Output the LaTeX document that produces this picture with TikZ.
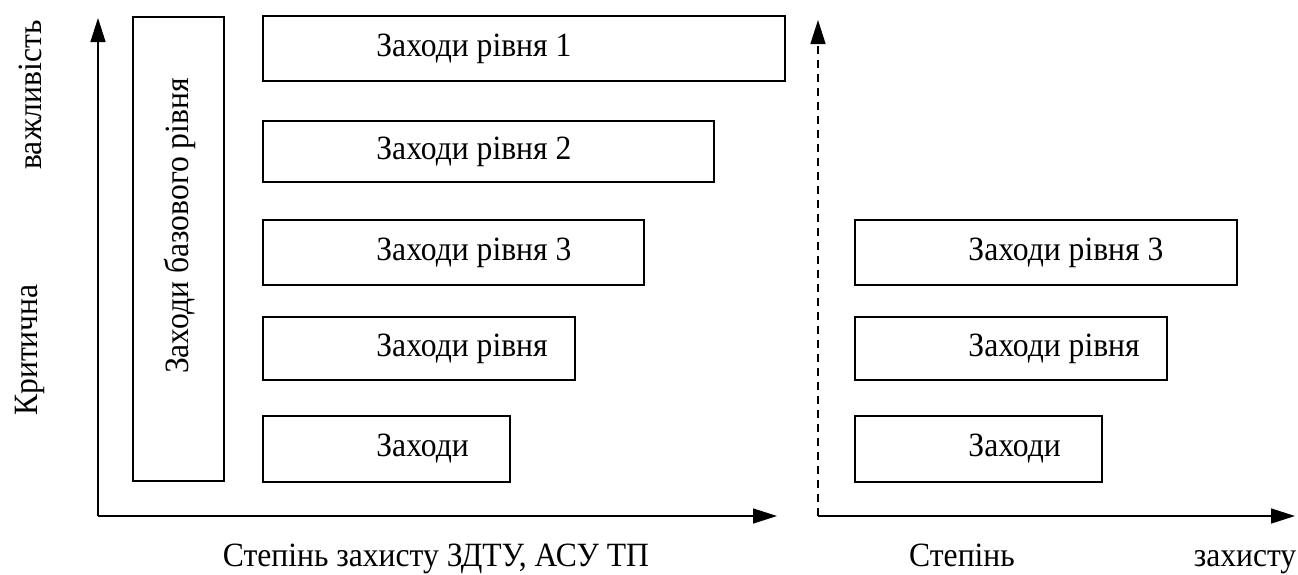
\documentclass[tikz,border=0pt]{standalone}
\usepackage{fontspec}
\setmainfont{Liberation Serif}
\newfontfamily\tnrfont[FakeStretch=0.93]{Liberation Serif}
\usetikzlibrary{arrows.meta}
\begin{document}
\begin{tikzpicture}[x=1pt,y=-1pt,
  boxst/.style={draw, line width=1.6pt, inner sep=0pt},
  lbl/.style={anchor=west, inner sep=0pt, font=\tnrfont\fontsize{34}{40}\selectfont},
  txt/.style={inner sep=0pt, font=\tnrfont\fontsize{34}{40}\selectfont},
  axis/.style={line width=1.4pt, -{Triangle[length=24pt,width=15pt]}},
  daxis/.style={axis, dash pattern=on 8pt off 6pt}]
\useasboundingbox (0,0) rectangle (1298,574);
% left axes
\coordinate (o1) at (98,516);
\coordinate (y1) at (98,18);
\coordinate (x1) at (777,516);
\draw[axis] (o1) -- (y1);
\draw[axis] (o1) -- (x1);
% right axes
\coordinate (o2) at (818,516);
\coordinate (y2) at (818,20);
\coordinate (x2) at (1295,516);
\draw[daxis] (o2) -- (y2);
\draw[axis] (o2) -- (x2);
% boxes
\node[boxst, minimum width=91pt, minimum height=464pt] (base) at (178.5,249) {};
\node[txt, rotate=90] (basetxt) at (180,226) {Заходи базового рівня};
\node[boxst, minimum width=522pt, minimum height=65pt] (b1) at (524,48.5) {};
\node[boxst, minimum width=451pt, minimum height=61pt] (b2) at (488.5,151.5) {};
\node[boxst, minimum width=381pt, minimum height=65pt] (b3) at (453.5,252.5) {};
\node[boxst, minimum width=312pt, minimum height=63pt] (b4) at (419,348.5) {};
\node[boxst, minimum width=247pt, minimum height=66pt] (b5) at (386.5,449) {};
\node[lbl] (t1) at ([xshift=114pt]b1.west) {Заходи рівня 1};
\node[lbl] (t2) at ([xshift=114pt]b2.west) {Заходи рівня 2};
\node[lbl] (t3) at ([xshift=114pt]b3.west) {Заходи рівня 3};
\node[lbl] (t4) at ([xshift=114pt]b4.west) {Заходи рівня};
\node[lbl] (t5) at ([xshift=114pt]b5.west) {Заходи};
\node[boxst, minimum width=382pt, minimum height=65pt] (r3) at (1046,252.5) {};
\node[boxst, minimum width=312pt, minimum height=63pt] (r4) at (1011,348.5) {};
\node[boxst, minimum width=247pt, minimum height=66pt] (r5) at (978.5,449) {};
\node[lbl] (s3) at ([xshift=114pt]r3.west) {Заходи рівня 3};
\node[lbl] (s4) at ([xshift=114pt]r4.west) {Заходи рівня};
\node[lbl] (s5) at ([xshift=114pt]r5.west) {Заходи};
% axis labels
\node[txt, rotate=90] (krit) at (30,350) {Критична};
\node[txt, rotate=90] (vazh) at (30,95) {важливість};
\node[txt, anchor=base] (xl1) at (436,566) {Степінь захисту ЗДТУ, АСУ ТП};
\node[txt, anchor=base] (xl2a) at (962,566) {Степінь};
\node[txt, anchor=base] (xl2b) at (1245,566) {захисту};
\end{tikzpicture}
\end{document}
